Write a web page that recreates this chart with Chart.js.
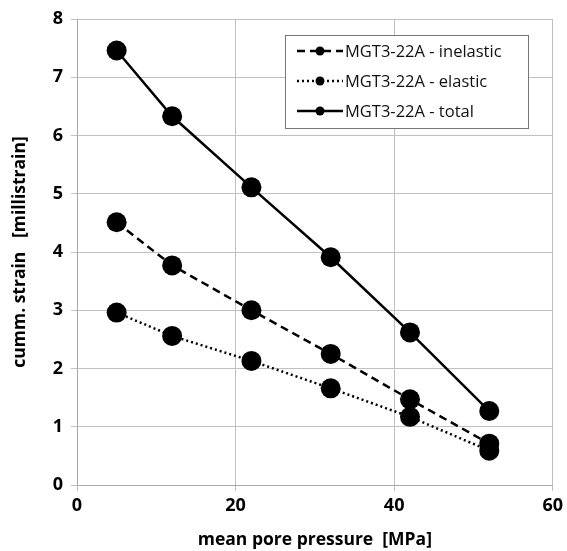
<!DOCTYPE html>
<html>
<head>
<meta charset="utf-8">
<script src="https://cdn.jsdelivr.net/npm/chart.js@4/dist/chart.umd.min.js"></script>
<style>
  html, body { margin: 0; padding: 0; background: #fff; }
  #wrap { width: 567px; height: 551px; }
</style>
</head>
<body>
<div id="wrap"><canvas id="strainChart"></canvas></div>
<script>
// mean pore pressure [MPa]
var pressure = [5, 12, 22, 32, 42, 52];
// cummulative strain [millistrain]
var inelastic = [4.51, 3.77, 3.00, 2.25, 1.47, 0.71];
var elastic = [2.96, 2.56, 2.13, 1.66, 1.17, 0.59];
var total = [7.46, 6.33, 5.11, 3.91, 2.62, 1.27];
var seriesNames = ['MGT3-22A - inelastic', 'MGT3-22A - elastic', 'MGT3-22A - total'];
var dashes = [[8, 5], [2, 3], []];

var FONT = '"Open Sans", "DejaVu Sans", sans-serif';

function pts(ys) {
  return pressure.map(function (x, i) { return { x: x, y: ys[i] }; });
}

function series(label, ys, dash) {
  return {
    label: label,
    data: pts(ys),
    borderColor: '#000',
    backgroundColor: '#000',
    borderWidth: 2.5,
    borderDash: dash,
    pointRadius: 10,
    pointHoverRadius: 10,
    pointBorderWidth: 0,
    showLine: true,
    tension: 0
  };
}

// legend box drawn by hand so it can show dashed lines with markers
var boxLegend = {
  id: 'boxLegend',
  afterDraw: function (chart) {
    var ctx = chart.ctx;
    var x0 = 285, y0 = 35, w = 243, h = 93;
    ctx.save();
    ctx.fillStyle = '#fff';
    ctx.fillRect(x0, y0, w, h);
    ctx.strokeStyle = '#777';
    ctx.lineWidth = 1;
    ctx.strokeRect(x0 + 0.5, y0 + 0.5, w, h);
    for (var i = 0; i < seriesNames.length; i++) {
      var y = 51 + i * 30;
      ctx.strokeStyle = '#000';
      ctx.lineWidth = 2.5;
      ctx.setLineDash(dashes[i]);
      ctx.beginPath();
      ctx.moveTo(297, y);
      ctx.lineTo(343, y);
      ctx.stroke();
      ctx.setLineDash([]);
      ctx.beginPath();
      ctx.arc(320, y, 4.5, 0, Math.PI * 2);
      ctx.fillStyle = '#000';
      ctx.fill();
      ctx.fillStyle = '#111';
      ctx.font = '16.5px ' + FONT;
      ctx.textBaseline = 'middle';
      ctx.textAlign = 'left';
      ctx.fillText(seriesNames[i], 345, y + 1);
    }
    ctx.restore();
  }
};

new Chart(document.getElementById('strainChart'), {
  type: 'scatter',
  data: {
    datasets: [
      series(seriesNames[0], inelastic, dashes[0]),
      series(seriesNames[1], elastic, dashes[1]),
      series(seriesNames[2], total, dashes[2])
    ]
  },
  options: {
    responsive: true,
    maintainAspectRatio: false,
    animation: false,
    layout: { padding: { top: 19, right: 13, left: 0, bottom: 0 } },
    plugins: {
      legend: { display: false },
      tooltip: { enabled: false }
    },
    scales: {
      x: {
        type: 'linear',
        min: 0, max: 60,
        ticks: { stepSize: 20, color: '#000', padding: 4, font: { family: FONT, size: 18, weight: 'bold' } },
        grid: { color: '#c0c0c0', lineWidth: 1, tickLength: 6 },
        border: { color: '#a8a8a8', width: 1 },
        title: {
          display: true,
          text: 'mean pore pressure  [MPa]',
          color: '#000',
          padding: { top: 0, bottom: 0 },
          font: { family: FONT, size: 17.5, weight: 'bold' }
        },
        afterFit: function (s) { s.height = 66; }
      },
      y: {
        min: 0, max: 8,
        ticks: { stepSize: 1, color: '#000', padding: 8, font: { family: FONT, size: 18, weight: 'bold' } },
        grid: { color: '#c0c0c0', lineWidth: 1, tickLength: 6 },
        border: { color: '#a8a8a8', width: 1 },
        title: {
          display: true,
          text: 'cumm. strain   [millistrain]',
          color: '#000',
          padding: { top: 10, bottom: 0 },
          font: { family: FONT, size: 17.5, weight: 'bold' }
        },
        afterFit: function (s) { s.width = 77; }
      }
    }
  },
  plugins: [boxLegend]
});
</script>
</body>
</html>
